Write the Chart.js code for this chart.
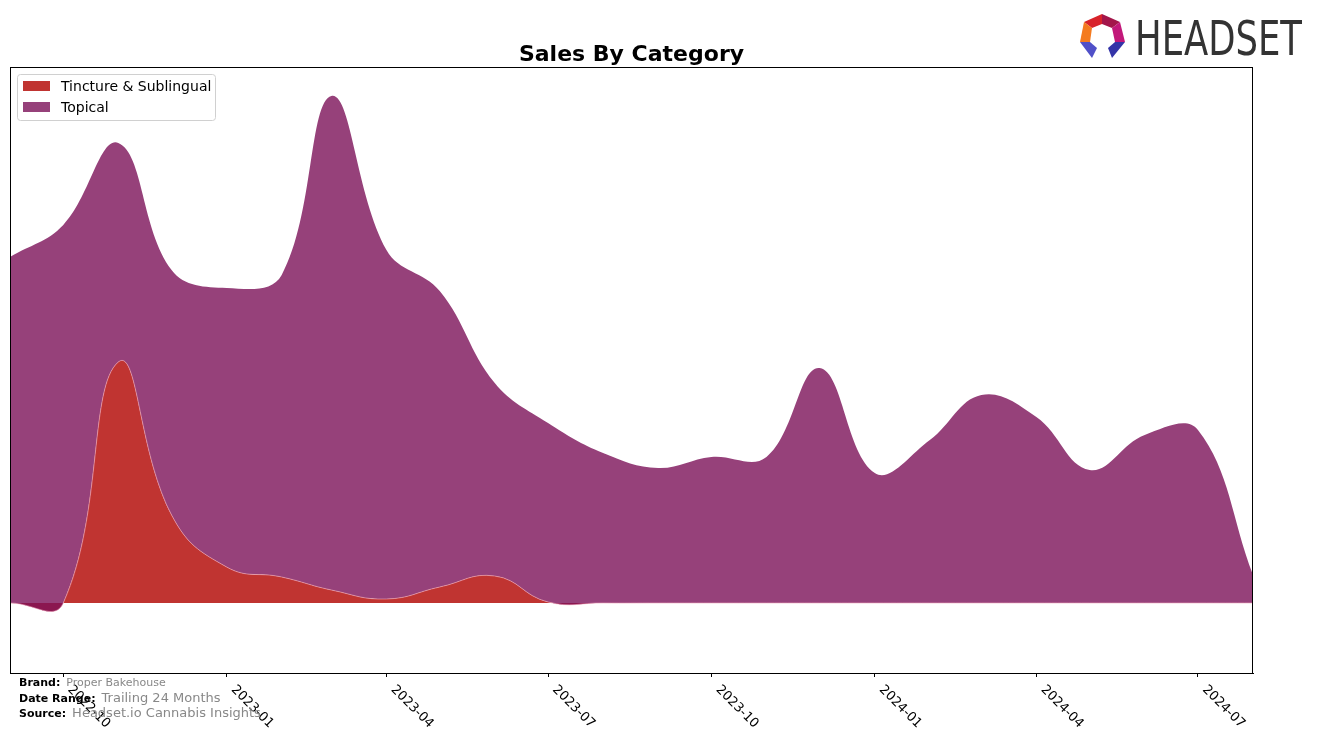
<!DOCTYPE html>
<html>
<head>
<meta charset="utf-8">
<title>Sales By Category</title>
<script src="https://cdn.jsdelivr.net/npm/chart.js@4.4.1/dist/chart.umd.min.js"></script>
<style>
html, body { margin: 0; padding: 0; background: #fff; }
#wrap { width: 1317px; height: 743px; position: relative; }
</style>
</head>
<body>
<div id="wrap"><canvas id="salesChart" width="1317" height="743"></canvas></div>
<script>
// monthly values (arbitrary units, y axis is hidden)
var months = ["2022-09", "2022-10", "2022-11", "2022-12", "2023-01", "2023-02", "2023-03", "2023-04",
    "2023-05", "2023-06", "2023-07", "2023-08", "2023-09", "2023-10", "2023-11", "2023-12",
    "2024-01", "2024-02", "2024-03", "2024-04", "2024-05", "2024-06", "2024-07", "2024-08"];
var tincture = [0, 0, 241, 88, 36, 26, 13, 4, 16, 27, 1, 0, 0, 0, 0, 0, 0, 0, 0, 0, 0, 0, 0, 0];
var topical = [346, 378, 219, 245, 279, 302, 494, 349, 296, 193, 179, 150, 135, 146, 146, 235,
    130, 163, 208, 186, 133, 168, 173, 28];
var tickLabels = ["2022-10", "2023-01", "2023-04", "2023-07", "2023-10", "2024-01", "2024-04", "2024-07"];
var seriesNames = ["Tincture & Sublingual", "Topical"];
var seriesColors = ["#c03431", "#96417a"];

var vars = {
    can: "salesChart",
    font: "'DejaVu Sans', 'Liberation Sans', sans-serif",
    dip: "#8b1750"
};

function toMs(label) {
    var p = label.split("-");
    return Date.UTC(parseInt(p[0], 10), parseInt(p[1], 10) - 1, 1);
}

function series(values) {
    var out = [];
    for (var i = 0; i < months.length; i++) {
        out.push({ x: toMs(months[i]), y: values[i] });
    }
    return out;
}

/** texts, frame, legend and logo drawn around the plot **/
var decor = {
    id: "decor",
    afterDraw: function (chart) {
        var ctx = chart.ctx;
        var a = chart.chartArea;
        var xs = chart.scales.x;
        ctx.save();

        // frame
        ctx.strokeStyle = "#000";
        ctx.lineWidth = 1;
        ctx.strokeRect(a.left + 0.5, a.top + 0.5, a.right - a.left - 1, a.bottom - a.top);

        // rotated tick labels
        ctx.fillStyle = "#000";
        ctx.font = "13px " + vars.font;
        ctx.textAlign = "left";
        ctx.textBaseline = "top";
        for (var i = 0; i < tickLabels.length; i++) {
            var px = xs.getPixelForValue(toMs(tickLabels[i]));
            ctx.save();
            ctx.translate(px + 11, a.bottom + 10);
            ctx.rotate(Math.PI / 4);
            ctx.fillText(tickLabels[i], 0, 0);
            ctx.restore();
        }

        // title
        ctx.font = "bold 22px " + vars.font;
        ctx.textAlign = "center";
        ctx.textBaseline = "alphabetic";
        ctx.fillText("Sales By Category", (a.left + a.right) / 2, 61);

        // legend
        ctx.fillStyle = "rgba(255,255,255,0.8)";
        ctx.strokeStyle = "#d0d0d0";
        ctx.beginPath();
        ctx.roundRect(17.5, 74.5, 198, 46, 3);
        ctx.fill();
        ctx.stroke();
        ctx.font = "14px " + vars.font;
        ctx.textAlign = "left";
        ctx.textBaseline = "middle";
        for (var k = 0; k < seriesNames.length; k++) {
            var ly = 86 + k * 21;
            ctx.fillStyle = seriesColors[k];
            ctx.fillRect(23, ly - 5, 27, 10);
            ctx.fillStyle = "#000";
            ctx.fillText(seriesNames[k], 61, ly + 1);
        }

        // footer
        var rows = [
            ["Brand:", "Proper Bakehouse", 686, 11],
            ["Date Range:", "Trailing 24 Months", 702, 13],
            ["Source:", "Headset.io Cannabis Insights", 717, 13]
        ];
        ctx.textBaseline = "alphabetic";
        for (var r = 0; r < rows.length; r++) {
            ctx.font = "bold 11px " + vars.font;
            ctx.fillStyle = "#000";
            ctx.fillText(rows[r][0], 19, rows[r][2]);
            var w = ctx.measureText(rows[r][0]).width;
            ctx.font = rows[r][3] + "px " + vars.font;
            ctx.fillStyle = "#888";
            ctx.fillText(rows[r][1], 19 + w + 6, rows[r][2]);
        }

        // logo mark
        var parts = [
            ["#d8232a", [[1084, 22], [1102, 14], [1102, 24], [1092, 28]]],
            ["#a3164a", [[1102, 14], [1120, 22], [1112, 28], [1102, 24]]],
            ["#c2187a", [[1120, 22], [1125, 42], [1115, 42], [1112, 28]]],
            ["#f47b20", [[1084, 22], [1092, 28], [1090, 42], [1080, 42]]],
            ["#5050c8", [[1080, 42], [1090, 42], [1097, 48], [1092, 58]]],
            ["#3434a8", [[1115, 42], [1125, 42], [1112, 58], [1108, 48]]]
        ];
        for (var j = 0; j < parts.length; j++) {
            ctx.fillStyle = parts[j][0];
            ctx.beginPath();
            var pts = parts[j][1];
            ctx.moveTo(pts[0][0], pts[0][1]);
            for (var q = 1; q < pts.length; q++) ctx.lineTo(pts[q][0], pts[q][1]);
            ctx.closePath();
            ctx.fill();
        }
        // logo word
        ctx.font = "48px " + vars.font;
        ctx.fillStyle = "#333";
        ctx.textAlign = "left";
        var ww = ctx.measureText("HEADSET").width;
        ctx.save();
        ctx.translate(1135, 55);
        ctx.scale(167 / ww, 1);
        ctx.fillText("HEADSET", 0, 0);
        ctx.restore();

        ctx.restore();
    }
};

var ctx = document.getElementById(vars.can).getContext("2d");
var chart = new Chart(ctx, {
    type: "line",
    data: {
        datasets: [
            {
                label: seriesNames[0],
                data: series(tincture),
                backgroundColor: seriesColors[0],
                borderColor: "rgba(240,170,190,0.6)",
                borderWidth: 1,
                pointRadius: 0,
                tension: 0.45,
                fill: { target: "origin", above: seriesColors[0], below: vars.dip }
            },
            {
                label: seriesNames[1],
                data: series(topical),
                backgroundColor: seriesColors[1],
                borderColor: seriesColors[1],
                borderWidth: 0,
                pointRadius: 0,
                tension: 0.4,
                fill: "-1"
            }
        ]
    },
    options: {
        responsive: false,
        animation: false,
        devicePixelRatio: 1,
        layout: { padding: { left: 10, right: 64, top: 67, bottom: 0 } },
        plugins: {
            legend: { display: false },
            title: { display: false },
            tooltip: { enabled: false }
        },
        scales: {
            x: {
                type: "linear",
                min: toMs(months[0]),
                max: toMs(months[months.length - 1]),
                afterBuildTicks: function (scale) {
                    scale.ticks = tickLabels.map(function (l) { return { value: toMs(l) }; });
                },
                afterFit: function (scale) { scale.height = 70; },
                ticks: { color: "rgba(0,0,0,0)", maxRotation: 0, minRotation: 0, font: { size: 13 } },
                grid: { display: true, drawOnChartArea: false, drawTicks: true, tickLength: 4, color: "#000" },
                border: { display: true, color: "#000" }
            },
            y: {
                display: false,
                stacked: true,
                min: -70,
                max: 536
            }
        }
    },
    plugins: [decor]
});
</script>
</body>
</html>
